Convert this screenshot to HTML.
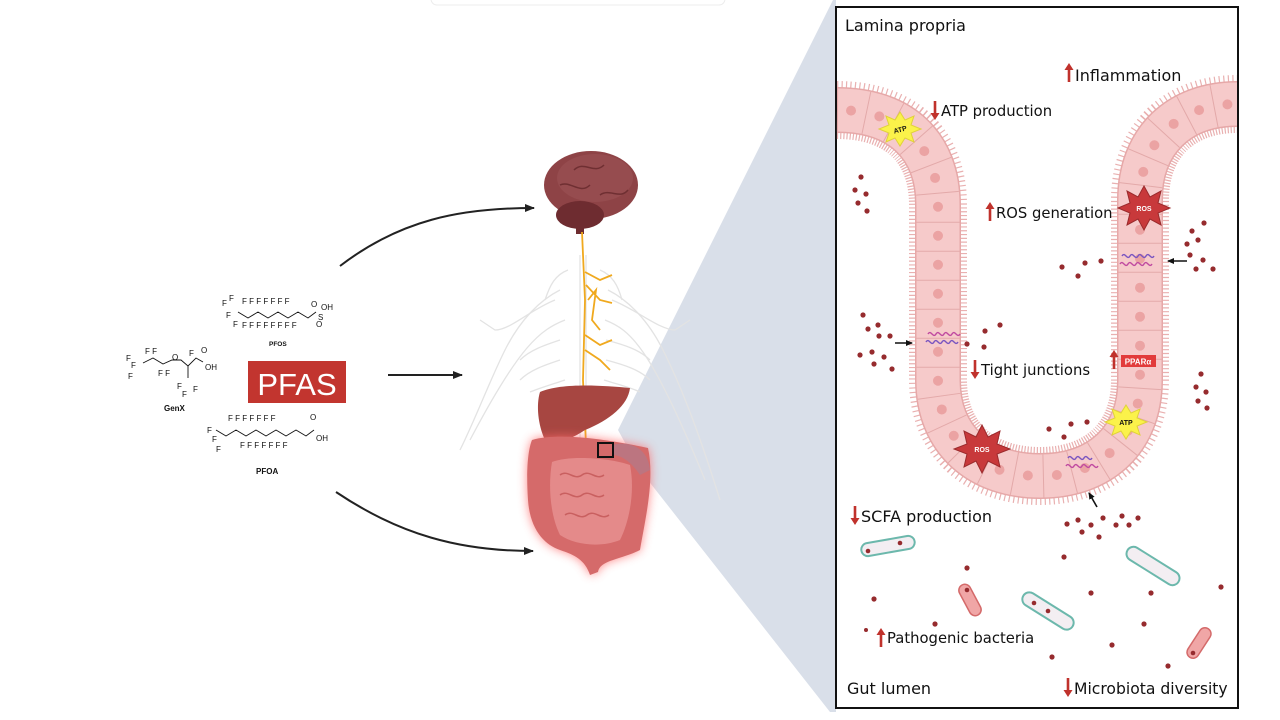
<!DOCTYPE html>
<html><head><meta charset="utf-8"><style>
html,body{margin:0;padding:0;background:#fff;}
svg{display:block;font-family:"Liberation Sans","DejaVu Sans",sans-serif;}
.lb{font-family:"DejaVu Sans","Liberation Sans",sans-serif;}
</style></head><body>
<svg width="1280" height="720" viewBox="0 0 1280 720" xmlns="http://www.w3.org/2000/svg">
<defs>
<marker id="ah" markerWidth="10" markerHeight="8" refX="9" refY="4" orient="auto" markerUnits="userSpaceOnUse"><path d="M0,0 L10,4 L0,8 Z" fill="#222"/></marker>
<marker id="ahs" markerWidth="7" markerHeight="6" refX="6" refY="3" orient="auto" markerUnits="userSpaceOnUse"><path d="M0,0 L7,3 L0,6 Z" fill="#111"/></marker>
<filter id="glow" x="-30%" y="-30%" width="160%" height="160%"><feGaussianBlur stdDeviation="5"/></filter>
<g id="up"><rect x="-1.3" y="5" width="2.6" height="14" fill="#c0322c"/><polygon points="-4.5,7 0,0 4.5,7" fill="#c0322c"/></g>
<g id="dn"><rect x="-1.3" y="0" width="2.6" height="14" fill="#c0322c"/><polygon points="-4.5,12 0,19 4.5,12" fill="#c0322c"/></g>
</defs>

<rect x="431" y="-12" width="294" height="17" rx="6" fill="#fff" stroke="#ececec"/>

<polygon points="833,0 836,0 836,712 830,712 640,470 618,430" fill="#d9dfe9"/>

<path d="M340,266 C400,220 460,208 534,208" fill="none" stroke="#222" stroke-width="2" marker-end="url(#ah)"/>
<path d="M388,375 L462,375" fill="none" stroke="#222" stroke-width="2" marker-end="url(#ah)"/>
<path d="M336,492 C400,535 460,551 533,551" fill="none" stroke="#222" stroke-width="2" marker-end="url(#ah)"/>

<rect x="248" y="361" width="98" height="42" fill="#c2352f"/>
<text x="297" y="395" font-size="31" fill="#fff" text-anchor="middle">PFAS</text>

<g fill="none" stroke="#111" stroke-width="0.9">
<polyline points="238,312 248,318 258,312 268,318 278,312 288,318 298,312 308,318 316,312"/>
<polyline points="143,363 153,358 163,364 172,360 181,360 188,366 196,358 203,362"/>
<line x1="188" y1="366" x2="188" y2="378"/>
<polyline points="216,430 226,436 236,430 246,436 256,430 266,436 276,430 286,436 296,430 306,436 314,430"/>
</g>
<g font-size="8" fill="#111">
<text x="222" y="306">F</text><text x="229" y="301">F</text>
<text x="242" y="304">F F F F F F F</text><text x="311" y="307">O</text><text x="321" y="310">OH</text>
<text x="226" y="318">F</text><text x="233" y="327">F</text>
<text x="242" y="328">F F F F F F F F</text><text x="318" y="320">S</text><text x="316" y="327">O</text>
<text x="269" y="346" font-size="6.5" font-weight="bold">PFOS</text>
<text x="145" y="354">F F</text><text x="126" y="361">F</text><text x="131" y="368">F</text><text x="128" y="379">F</text>
<text x="158" y="376">F F</text><text x="172" y="360">O</text><text x="189" y="356">F</text>
<text x="201" y="353">O</text><text x="205" y="370">OH</text>
<text x="177" y="389">F</text><text x="182" y="397">F</text><text x="193" y="392">F</text>
<text x="164" y="411" font-size="8" font-weight="bold">GenX</text>
<text x="228" y="421">F F F F F F F</text><text x="310" y="420">O</text>
<text x="207" y="433">F</text><text x="212" y="442">F</text><text x="216" y="452">F</text>
<text x="240" y="448">F F F F F F F</text><text x="316" y="441">OH</text>
<text x="256" y="474" font-size="8" font-weight="bold">PFOA</text>
</g>

<g fill="none" stroke="#e3e3e3" stroke-width="1.3">
<path d="M580,255 L580,440"/><path d="M586,255 L586,440"/>
<path d="M560,290 C540,300 520,320 505,350 C490,380 475,420 460,450"/>
<path d="M608,290 C628,300 648,320 663,350 C678,380 695,420 720,500"/>
<path d="M555,300 C530,310 510,330 495,330 L480,320"/>
<path d="M612,300 C637,310 660,330 675,330 L690,320"/>
<path d="M565,320 C540,330 520,345 470,440"/><path d="M605,320 C630,330 650,345 705,480"/>
<path d="M560,340 C545,345 530,350 520,360"/><path d="M606,340 C625,345 640,350 650,360"/>
<path d="M560,360 C545,365 530,370 520,380"/><path d="M606,360 C625,365 640,370 650,380"/>
<path d="M565,380 C550,385 540,388 530,392"/><path d="M604,380 C620,385 632,388 640,392"/>
<path d="M568,270 C555,275 550,285 545,300"/><path d="M600,270 C612,275 618,285 622,300"/>
</g>
<ellipse cx="591" cy="185" rx="47" ry="34" fill="#8e4346"/>
<ellipse cx="595" cy="178" rx="38" ry="24" fill="#9a5052" opacity="0.7"/>
<ellipse cx="580" cy="215" rx="24" ry="14" fill="#6e2c30"/>
<path d="M574,170 C584,160 594,175 604,165 M560,185 C570,180 580,195 590,185 M600,195 C610,188 620,200 628,190" stroke="#6f2f32" stroke-width="1.5" fill="none"/>
<rect x="576" y="222" width="8" height="12" fill="#6e2c30"/>
<g fill="none" stroke="#f0a91e" stroke-width="1.8">
<path d="M582,232 L585,300 L583,380 L586,445"/>
<path d="M585,272 L600,280 L612,275 M586,285 L600,300 L612,303 M585,335 L600,345 L612,340 M585,350 L600,360 L610,370 M588,300 L596,290 L592,320 L600,330"/>
</g>
<path d="M540,392 C560,383 600,385 630,388 C628,405 610,420 585,430 C570,440 555,445 545,440 C538,425 536,405 540,392 Z" fill="#a74641"/>
<path d="M532,440 C560,432 610,440 648,448 C655,480 645,520 640,550 C620,560 600,560 598,572 L590,575 C585,560 575,555 560,550 C545,545 530,530 528,500 C526,470 528,450 532,440 Z" fill="#ff6a6a" filter="url(#glow)" opacity="0.8"/>
<path d="M532,440 C560,432 610,440 648,448 C655,480 645,520 640,550 C620,560 600,560 598,572 L590,575 C585,560 575,555 560,550 C545,545 530,530 528,500 C526,470 528,450 532,440 Z" fill="#d56a6a"/>
<path d="M552,462 C570,455 610,458 630,465 C635,490 630,520 620,540 C600,548 575,545 560,535 C550,515 548,485 552,462 Z" fill="#e48a8a"/>
<path d="M560,475 c8,-6 14,6 22,0 s14,6 22,0 M560,495 c8,-6 14,6 22,0 s14,6 22,0 M565,515 c8,-6 14,6 22,0 s14,6 22,0" stroke="#c96060" stroke-width="1.5" fill="none"/>
<path d="M612,445 C630,440 648,448 650,470 L640,475 C630,460 620,455 612,455 Z" fill="#b07a8a" opacity="0.7"/>
<rect x="598" y="443" width="15" height="14" fill="none" stroke="#111" stroke-width="2"/>

<rect x="836" y="7" width="402" height="701" fill="#fff" stroke="#111" stroke-width="2"/>
<g>
<path d="M837,110 C900,110 938,145 938,205 L938,380 C938,440 980,476 1040,476 C1100,476 1140,440 1140,380 L1140,200 C1140,140 1180,104 1237,104" fill="none" stroke="#e9b0b0" stroke-width="58" stroke-dasharray="1.2 2.6"/>
<path d="M837,110 C900,110 938,145 938,205 L938,380 C938,440 980,476 1040,476 C1100,476 1140,440 1140,380 L1140,200 C1140,140 1180,104 1237,104" fill="none" stroke="#e6a8a8" stroke-width="46"/>
<path d="M837,110 C900,110 938,145 938,205 L938,380 C938,440 980,476 1040,476 C1100,476 1140,440 1140,380 L1140,200 C1140,140 1180,104 1237,104" fill="none" stroke="#f6caca" stroke-width="43"/>
<path d="M837,110 C900,110 938,145 938,205 L938,380 C938,440 980,476 1040,476 C1100,476 1140,440 1140,380 L1140,200 C1140,140 1180,104 1237,104" fill="none" stroke="#e3a9a9" stroke-width="43" stroke-dasharray="1 28"/>
<path d="M837,110 C900,110 938,145 938,205 L938,380 C938,440 980,476 1040,476 C1100,476 1140,440 1140,380 L1140,200 C1140,140 1180,104 1237,104" fill="none" stroke="#eba3a3" stroke-width="10" stroke-linecap="round" stroke-dasharray="0 29" stroke-dashoffset="-14"/>
</g>
<g fill="#962b2e">
<circle cx="861" cy="177" r="2.6"/><circle cx="855" cy="190" r="2.6"/><circle cx="866" cy="194" r="2.6"/><circle cx="858" cy="203" r="2.6"/><circle cx="867" cy="211" r="2.6"/>
<circle cx="863" cy="315" r="2.6"/><circle cx="868" cy="329" r="2.6"/><circle cx="878" cy="325" r="2.6"/><circle cx="879" cy="336" r="2.6"/><circle cx="890" cy="336" r="2.6"/><circle cx="860" cy="355" r="2.6"/><circle cx="872" cy="352" r="2.6"/><circle cx="884" cy="357" r="2.6"/><circle cx="874" cy="364" r="2.6"/><circle cx="892" cy="369" r="2.6"/>
<circle cx="985" cy="331" r="2.6"/><circle cx="1000" cy="325" r="2.6"/><circle cx="967" cy="344" r="2.6"/><circle cx="984" cy="347" r="2.6"/>
<circle cx="1062" cy="267" r="2.6"/><circle cx="1085" cy="263" r="2.6"/><circle cx="1101" cy="261" r="2.6"/><circle cx="1078" cy="276" r="2.6"/>
<circle cx="1204" cy="223" r="2.6"/><circle cx="1192" cy="231" r="2.6"/><circle cx="1198" cy="240" r="2.6"/><circle cx="1187" cy="244" r="2.6"/><circle cx="1190" cy="255" r="2.6"/><circle cx="1203" cy="260" r="2.6"/><circle cx="1196" cy="269" r="2.6"/><circle cx="1213" cy="269" r="2.6"/>
<circle cx="1201" cy="374" r="2.6"/><circle cx="1196" cy="387" r="2.6"/><circle cx="1206" cy="392" r="2.6"/><circle cx="1198" cy="401" r="2.6"/><circle cx="1207" cy="408" r="2.6"/>
<circle cx="1049" cy="429" r="2.6"/><circle cx="1071" cy="424" r="2.6"/><circle cx="1087" cy="422" r="2.6"/><circle cx="1064" cy="437" r="2.6"/>
<circle cx="1067" cy="524" r="2.6"/><circle cx="1078" cy="520" r="2.6"/><circle cx="1091" cy="525" r="2.6"/><circle cx="1103" cy="518" r="2.6"/><circle cx="1116" cy="525" r="2.6"/><circle cx="1122" cy="516" r="2.6"/><circle cx="1129" cy="525" r="2.6"/><circle cx="1138" cy="518" r="2.6"/><circle cx="1082" cy="532" r="2.6"/><circle cx="1099" cy="537" r="2.6"/>
<circle cx="1064" cy="557" r="2.6"/><circle cx="967" cy="568" r="2.6"/><circle cx="874" cy="599" r="2.6"/><circle cx="1091" cy="593" r="2.6"/><circle cx="1151" cy="593" r="2.6"/><circle cx="1221" cy="587" r="2.6"/><circle cx="935" cy="624" r="2.6"/><circle cx="866" cy="630" r="2"/><circle cx="1144" cy="624" r="2.6"/><circle cx="1112" cy="645" r="2.6"/><circle cx="1052" cy="657" r="2.6"/><circle cx="1168" cy="666" r="2.6"/>
</g>
<g stroke="#111" stroke-width="1.6" fill="none">
<line x1="895" y1="343" x2="912" y2="343" marker-end="url(#ahs)"/>
<line x1="1187" y1="261" x2="1168" y2="261" marker-end="url(#ahs)"/>
<line x1="1097" y1="507" x2="1089" y2="493" marker-end="url(#ahs)"/>
</g>
<g stroke="#6cb8ac" stroke-width="2" fill="#f3eef2">
<rect x="-27" y="-6.5" width="54" height="13" rx="6.5" transform="translate(888,546) rotate(-10)"/>
<rect x="-30" y="-7" width="60" height="14" rx="7" transform="translate(1153,566) rotate(32)"/>
<rect x="-29" y="-7" width="58" height="14" rx="7" transform="translate(1048,611) rotate(32)"/>
</g>
<g stroke="#d46a6a" stroke-width="1.5" fill="#f0a6a6">
<rect x="-17" y="-6" width="34" height="12" rx="6" transform="translate(970,600) rotate(62)"/>
<rect x="-17" y="-6" width="34" height="12" rx="6" transform="translate(1199,643) rotate(-57)"/>
</g>
<g fill="#962b2e"><circle cx="868" cy="551" r="2.3"/><circle cx="900" cy="543" r="2.3"/><circle cx="1034" cy="603" r="2.3"/><circle cx="1048" cy="611" r="2.3"/><circle cx="967" cy="590" r="2.3"/><circle cx="1193" cy="653" r="2.3"/></g>
<g font-size="7" font-weight="bold" text-anchor="middle">
<polygon transform="translate(900,129)" points="0,-17 5,-9 14,-13 11,-4 21,0 11,4 14,13 5,9 0,17 -5,9 -14,13 -11,4 -21,0 -11,-4 -14,-13 -5,-9" fill="#fbf24a" stroke="#e0d23a"/>
<text x="900" y="132" fill="#111" transform="rotate(-15 900 129)">ATP</text>
<polygon transform="translate(1126,422)" points="0,-17 5,-9 14,-13 11,-4 21,0 11,4 14,13 5,9 0,17 -5,9 -14,13 -11,4 -21,0 -11,-4 -14,-13 -5,-9" fill="#fbf24a" stroke="#e0d23a"/>
<text x="1126" y="425" fill="#111">ATP</text>
<polygon transform="translate(1144,208)" points="0,-22 6,-11 17,-17 14,-5 26,0 14,5 17,17 6,11 0,22 -6,11 -17,17 -14,5 -26,0 -14,-5 -17,-17 -6,-11" fill="#c8393b" stroke="#9a2a2c"/>
<text x="1144" y="211" fill="#fff">ROS</text>
<polygon transform="translate(982,449)" points="0,-24 6,-12 18,-18 15,-5 28,0 15,5 18,18 6,12 0,24 -6,12 -18,18 -15,5 -28,0 -15,-5 -18,-18 -6,-12" fill="#c8393b" stroke="#9a2a2c"/>
<text x="982" y="452" fill="#fff">ROS</text>
</g>
<g fill="none" stroke-width="1.4">
<path d="M928,334 c3,-5 5,5 8,0 s5,5 8,0 s5,5 8,0 s5,5 8,0" stroke="#c04aa0"/>
<path d="M926,342 c3,-5 5,5 8,0 s5,5 8,0 s5,5 8,0 s5,5 8,0" stroke="#7a55c0"/>
<path d="M1122,256 c3,-5 5,5 8,0 s5,5 8,0 s5,5 8,0 s5,5 8,0" stroke="#7a55c0"/>
<path d="M1120,264 c3,-5 5,5 8,0 s5,5 8,0 s5,5 8,0 s5,5 8,0" stroke="#c04aa0"/>
<path d="M1068,458 c3,-5 5,5 8,0 s5,5 8,0 s5,5 8,0" stroke="#7a55c0"/>
<path d="M1066,466 c3,-5 5,5 8,0 s5,5 8,0 s5,5 8,0 s5,5 8,0" stroke="#c04aa0"/>
</g>
<rect x="1121" y="355" width="35" height="12" fill="#e23b3b"/>
<text x="1138" y="364.5" font-size="8" font-weight="bold" fill="#fff" text-anchor="middle">PPARα</text>
<use href="#up" x="1069" y="63"/>
<use href="#dn" x="935" y="101"/>
<use href="#up" x="990" y="202"/>
<use href="#dn" x="975" y="360"/>
<use href="#up" x="1114" y="350"/>
<use href="#dn" x="855" y="506"/>
<use href="#up" x="881" y="628"/>
<use href="#dn" x="1068" y="678"/>
<g class="lb" font-size="14.8" fill="#111">
<text x="845" y="31" font-size="16">Lamina propria</text>
<text x="1075" y="81" font-size="16">Inflammation</text>
<text x="941" y="116">ATP production</text>
<text x="996" y="218">ROS generation</text>
<text x="981" y="375">Tight junctions</text>
<text x="861" y="522" font-size="16">SCFA production</text>
<text x="887" y="643">Pathogenic bacteria</text>
<text x="847" y="694" font-size="16">Gut lumen</text>
<text x="1074" y="694" font-size="15.6">Microbiota diversity</text>
</g>
</svg>
</body></html>
